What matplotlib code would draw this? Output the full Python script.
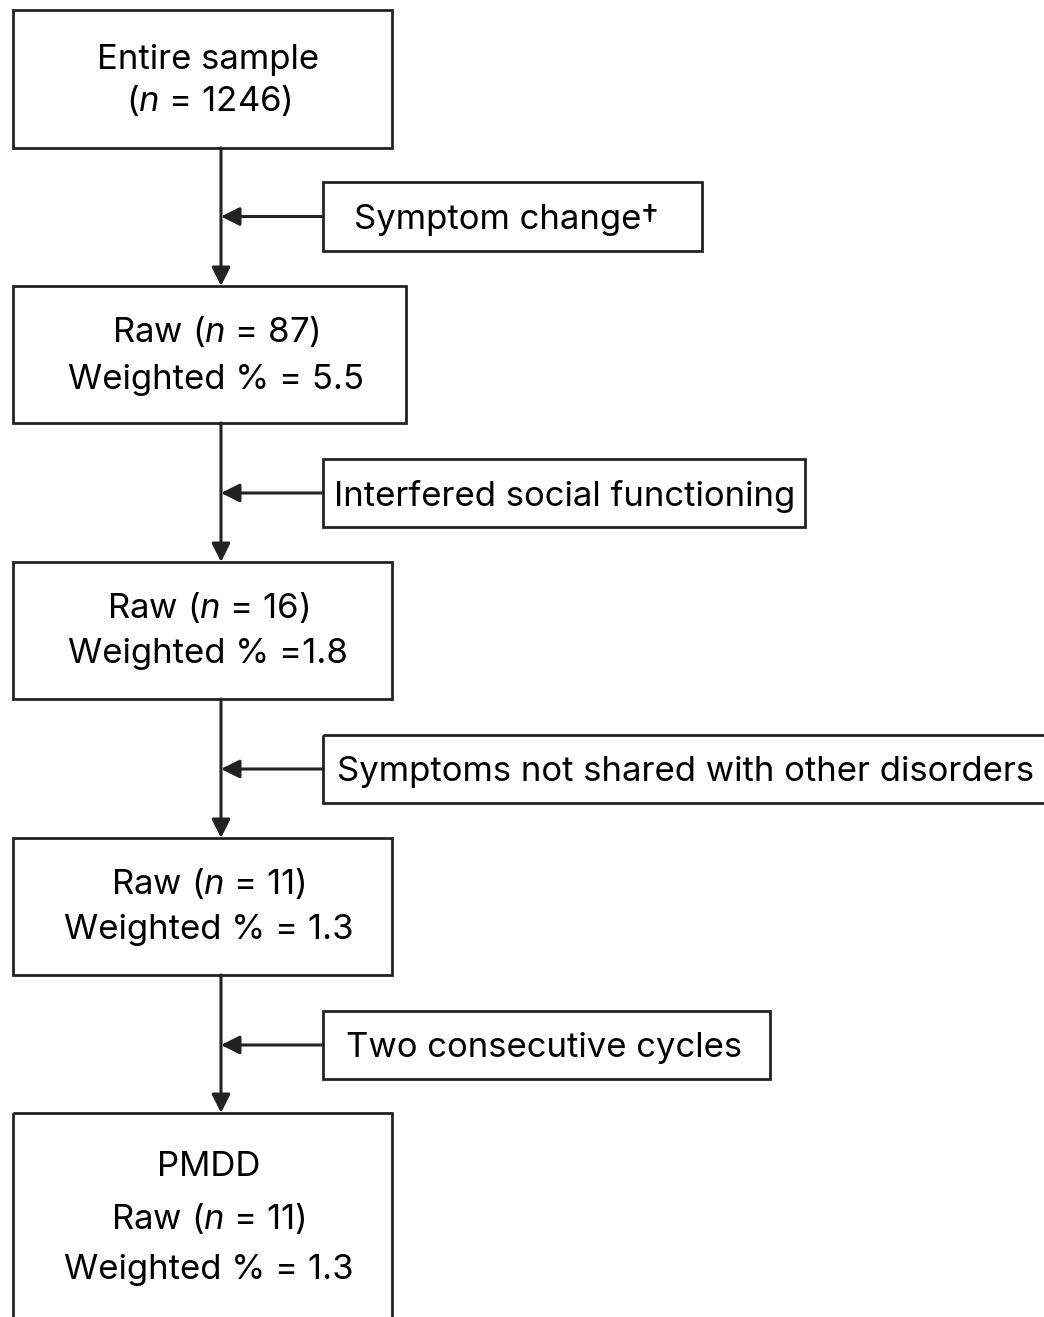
import matplotlib.pyplot as plt
from matplotlib.patches import Rectangle

plt.rcParams['font.family'] = ['Inter', 'Liberation Sans', 'DejaVu Sans']
plt.rcParams['mathtext.fontset'] = 'custom'
plt.rcParams['mathtext.rm'] = 'Inter'
plt.rcParams['mathtext.it'] = 'Inter:italic'

# box contents
main_labels = [
    ['Entire sample', '($\\it{n}$ = 1246)'],
    ['Raw ($\\it{n}$ = 87)', 'Weighted % = 5.5'],
    ['Raw ($\\it{n}$ = 16)', 'Weighted % =1.8'],
    ['Raw ($\\it{n}$ = 11)', 'Weighted % = 1.3'],
    ['PMDD', 'Raw ($\\it{n}$ = 11)', 'Weighted % = 1.3'],
]
side_labels = [
    'Symptom change\u2020',
    'Interfered social functioning',
    'Symptoms not shared with other disorders',
    'Two consecutive cycles',
]

# layout in pixel units (x0, x1, y0, y1), y downwards
main_boxes = [(13, 392, 10, 148), (13, 406, 286, 423), (13, 392, 562, 699),
              (13, 392, 838, 975), (13, 392, 1113, 1340)]
main_text_y = [[56, 97], [328, 376], [604, 651], [880, 927], [1163, 1215, 1267]]
side_boxes = [(323, 702, 182, 251), (323, 805, 459, 527),
              (323, 1060, 735, 803), (323, 770, 1011, 1079)]
side_text_x = [506, 565, 337, 544]
side_align = ['center', 'center', 'left', 'center']
trunk_x = 221

ink = '#222222'
W, H = 1044, 1317
fig = plt.figure(figsize=(W / 100, H / 100), dpi=100)
ax = fig.add_axes([0, 0, 1, 1])
ax.set_xlim(0, W)
ax.set_ylim(H, 0)
ax.axis('off')

def box(x0, x1, y0, y1):
    ax.add_patch(Rectangle((x0, y0), x1 - x0, y1 - y0, fill=False,
                           edgecolor=ink, linewidth=2.0, clip_on=True))

for (x0, x1, y0, y1), lines, ys in zip(main_boxes, main_labels, main_text_y):
    box(x0, x1, y0, y1)
    cx = (x0 + x1) / 2 + 6
    for txt, y in zip(lines, ys):
        ax.text(cx, y, txt, ha='center', va='center_baseline', fontsize=25,
                color='black')

for (x0, x1, y0, y1), txt, tx, al in zip(side_boxes, side_labels, side_text_x, side_align):
    box(x0, x1, y0, y1)
    ax.text(tx, (y0 + y1) / 2, txt, ha=al, va='center_baseline', fontsize=25,
            color='black')
    # arrow from side box into the trunk
    ax.annotate('', xy=(trunk_x, (y0 + y1) / 2), xytext=(x0, (y0 + y1) / 2),
                arrowprops=dict(arrowstyle='-|>', mutation_scale=28, lw=2.2,
                                color=ink, shrinkA=0, shrinkB=0))

# vertical trunk arrows between main boxes
for upper, lower in zip(main_boxes[:-1], main_boxes[1:]):
    ax.annotate('', xy=(trunk_x, lower[2]), xytext=(trunk_x, upper[3]),
                arrowprops=dict(arrowstyle='-|>', mutation_scale=28, lw=2.2,
                                color=ink, shrinkA=0, shrinkB=0))

fig.savefig('out.png', dpi=100, facecolor='white')
